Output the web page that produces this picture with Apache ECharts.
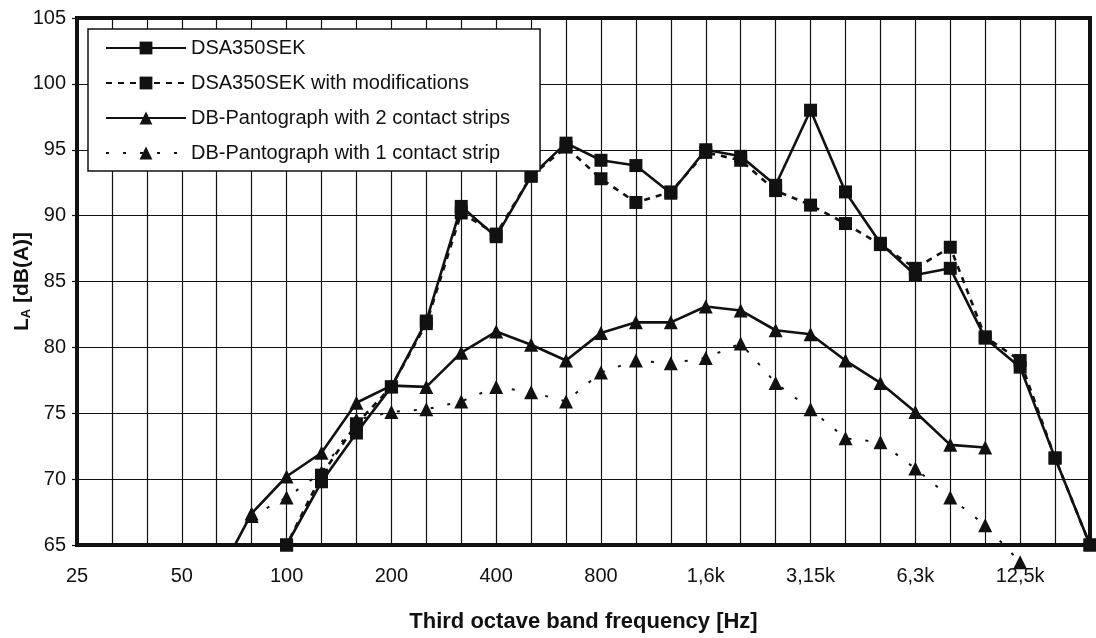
<!DOCTYPE html>
<html>
<head>
<meta charset="utf-8">
<title>Third octave band spectrum</title>
<script src="https://cdn.jsdelivr.net/npm/echarts@6/dist/echarts.min.js"></script>
<style>
  html, body { margin: 0; padding: 0; background: #fff; }
  #canvas { width: 1096px; height: 638px; }
</style>
</head>
<body>
<div id="canvas"></div>
<script>
// third octave bands, 25 Hz .. 20 kHz
var bands = ['25', '31,5', '40', '50', '63', '80', '100', '125', '160', '200', '250', '315', '400', '500', '630', '800',
    '1k', '1,25k', '1,6k', '2k', '2,5k', '3,15k', '4k', '5k', '6,3k', '8k', '10k', '12,5k', '16k', '20k'];

var yTicks = [65, 70, 75, 80, 85, 90, 95, 100, 105];

// L_A in dB(A)
var dsa350sek = [null, null, null, null, null, 62, 65, 69.8, 73.5, 77, 82, 90.7, 88.4, 93, 95.5, 94.2, 93.8, 91.7,
    95, 94.5, 92.3, 98, 91.8, 87.9, 85.5, 86, 80.7, 78.5, 71.6, 65];
var dsa350sekMod = [null, null, null, null, null, 62, 65, 70.3, 74.2, 77, 81.8, 90.2, 88.6, 93, 95.2, 92.8, 91.0, 91.8,
    94.8, 94.2, 91.9, 90.8, 89.4, 87.8, 86.0, 87.6, 80.8, 79.0, 71.6, 65];
var dbTwoStrips = [null, null, null, null, 62.4, 67.4, 70.2, 72.0, 75.8, 77.1, 77.0, 79.6, 81.2, 80.2, 79.0, 81.1, 81.9,
    81.9, 83.1, 82.8, 81.3, 81.0, 79.0, 77.3, 75.1, 72.6, 72.4, null, null, null];
var dbOneStrip = [null, null, null, null, null, 67.2, 68.6, 70.5, 74.5, 75.1, 75.3, 75.9, 77.0, 76.6, 75.9, 78.1, 79.0,
    78.8, 79.2, 80.3, 77.3, 75.3, 73.1, 72.8, 70.8, 68.6, 66.5, 63.7, null, null];

var seriesNames = ['DSA350SEK', 'DSA350SEK with modifications', 'DB-Pantograph with 2 contact strips',
    'DB-Pantograph with 1 contact strip'];

var ink = '#111';
var font = 'Liberation Sans, Arial, sans-serif';

var myChart = echarts.init(document.getElementById('canvas'));
var option;
option = {
    animation: false,
    backgroundColor: '#fff',
    textStyle: { fontFamily: font, color: ink },
    grid: {
        left: 77, right: 6, top: 18, bottom: 93,
        outerBoundsMode: 'none',
        containLabel: false,
        show: true, borderColor: ink, borderWidth: 4
    },
    legend: {
        data: seriesNames,
        orient: 'vertical',
        left: 88, top: 29,
        itemWidth: 80, itemHeight: 16, itemGap: 15,
        padding: [9, 30, 8, 17],
        backgroundColor: '#fff',
        borderColor: ink, borderWidth: 1.5,
        textStyle: { fontSize: 20, color: ink, fontFamily: font },
        selectedMode: false
    },
    xAxis: {
        type: 'category',
        data: bands,
        boundaryGap: false,
        name: 'Third octave band frequency [Hz]',
        nameLocation: 'middle',
        nameGap: 66,
        nameTextStyle: { fontSize: 22, fontWeight: 'bold', color: ink, fontFamily: font },
        axisLine: { lineStyle: { color: ink, width: 4 } },
        axisTick: { show: false },
        axisLabel: { interval: 2, fontSize: 20, color: ink, margin: 21 },
        splitLine: { show: true, interval: 0, lineStyle: { color: ink, width: 1.2 } }
    },
    yAxis: {
        type: 'value',
        min: yTicks[0], max: yTicks[yTicks.length - 1], interval: 5,
        name: 'L{sub|A} [dB(A)]',
        nameLocation: 'middle',
        nameGap: 44,
        nameMoveOverlap: false,
        nameRotate: 90,
        nameTextStyle: {
            fontSize: 21, fontWeight: 'bold', color: ink, fontFamily: font,
            rich: { sub: { fontSize: 13, fontWeight: 'bold', verticalAlign: 'bottom', padding: [9, 0, 0, 0], fontFamily: font } }
        },
        axisLine: { show: true, lineStyle: { color: ink, width: 4 } },
        axisTick: { show: true, length: 5, lineStyle: { color: ink, width: 1.2 } },
        axisLabel: { fontSize: 20, color: ink, margin: 11 },
        splitLine: { show: true, lineStyle: { color: ink, width: 1.2 } }
    },
    series: [{
        name: seriesNames[0],
        type: 'line',
        data: dsa350sek,
        symbol: 'rect', symbolSize: 13,
        lineStyle: { color: ink, width: 2.6, type: 'solid' },
        itemStyle: { color: ink }
    }, {
        name: seriesNames[1],
        type: 'line',
        data: dsa350sekMod,
        symbol: 'rect', symbolSize: 13,
        lineStyle: { color: ink, width: 2.6, type: [6, 6] },
        itemStyle: { color: ink }
    }, {
        name: seriesNames[2],
        type: 'line',
        data: dbTwoStrips,
        symbol: 'triangle', symbolSize: 14,
        lineStyle: { color: ink, width: 2.6, type: 'solid' },
        itemStyle: { color: ink }
    }, {
        name: seriesNames[3],
        type: 'line',
        data: dbOneStrip,
        clip: false,
        symbol: 'triangle', symbolSize: 14,
        lineStyle: { color: ink, width: 2, type: [3, 14] },
        itemStyle: { color: ink }
    }]
};

myChart.setOption(option);
</script>
</body>
</html>
